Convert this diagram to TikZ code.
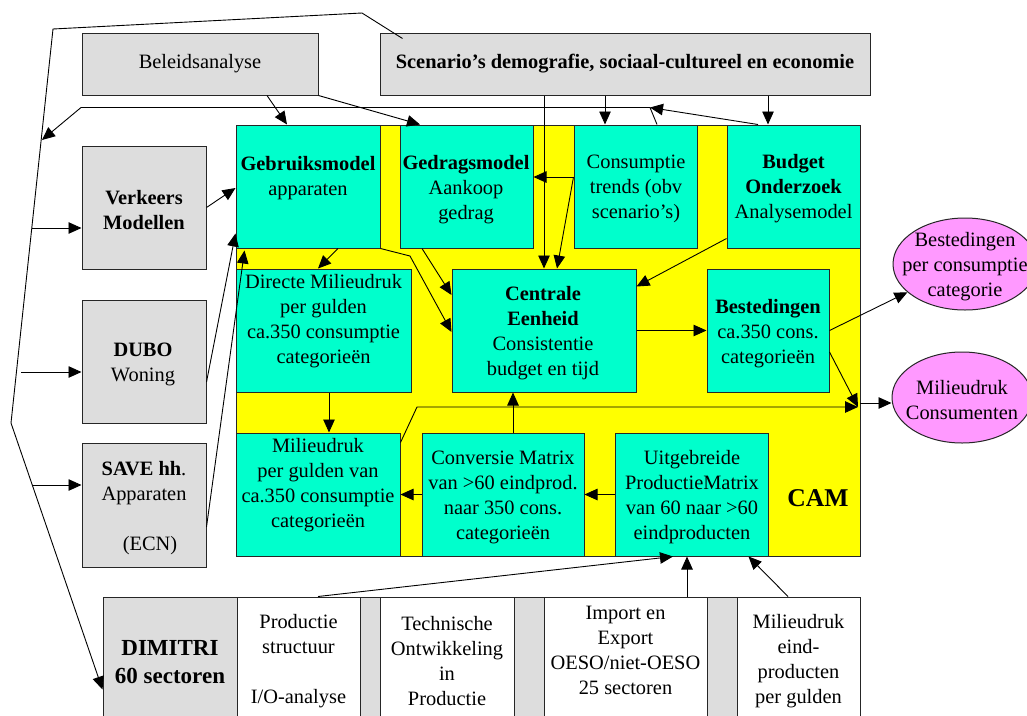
\documentclass[tikz,border=0pt]{standalone}
\usepackage{fontspec}
\setmainfont{Liberation Serif}
\usetikzlibrary{arrows.meta,shapes.geometric,fit}
\definecolor{panelgrey}{HTML}{DDDDDD}
\definecolor{modelcyan}{HTML}{00FFCC}
\definecolor{camyellow}{HTML}{FFFF00}
\definecolor{resultpink}{HTML}{FF99FF}

\begin{document}
\begin{tikzpicture}[x=1pt,y=-1pt,
  box/.style={rectangle, draw=black!85, line width=1pt, inner sep=0pt},
  greybox/.style={box, fill=panelgrey},
  cyanbox/.style={box, fill=modelcyan},
  whitebox/.style={box, fill=white},
  outcome/.style={ellipse, draw=black!85, line width=1pt, fill=resultpink, inner sep=0pt},
  txt/.style={align=center, inner sep=0pt, font=\fontsize{20.4}{25}\selectfont},
  bigtxt/.style={align=center, inner sep=0pt, font=\fontsize{23}{28}\selectfont\bfseries},
  link/.style={line width=0.9pt, draw=black},
  arr/.style={link, -{Triangle[length=13pt,width=11.5pt]}},
]
\useasboundingbox (0,0) rectangle (1027,715);
\clip (0,0) rectangle (1027,715);
\fill[white] (0,0) rectangle (1027,715);

% external inputs
\node[greybox, fit={(82,33) (318,95)}] (beleid) {};
\node[greybox, fit={(380,33) (870,95)}] (scen) {};
\node[greybox, fit={(82,146) (206,269)}] (verk) {};
\node[greybox, fit={(82,300) (206,423)}] (dubo) {};
\node[greybox, fit={(82,443) (206,567)}] (save) {};

% CAM area
\node[box, fill=camyellow, fit={(236,125) (860,556)}] (cam) {};
\node[cyanbox, fit={(236,125) (380,248)}] (gebr) {};
\node[cyanbox, fit={(400,125) (533,248)}] (gedr) {};
\node[cyanbox, fit={(574,125) (697,248)}] (cons) {};
\node[cyanbox, fit={(727,125) (860,248)}] (budg) {};
\node[cyanbox, fit={(236,269) (411,392)}] (dir) {};
\node[cyanbox, fit={(452,269) (636,392)}] (cent) {};
\node[cyanbox, fit={(707,269) (829,392)}] (best) {};
\node[cyanbox, fit={(236,433) (400,556)}] (mil) {};
\node[cyanbox, fit={(422,433) (584,556)}] (conv) {};
\node[cyanbox, fit={(615,433) (768,556)}] (uitg) {};

% results
\node[outcome, minimum width=144pt, minimum height=92pt] (e1) at (965,264) {};
\node[outcome, minimum width=140pt, minimum height=91pt] (e2) at (962,397.5) {};

% DIMITRI row
\node[greybox, fit={(103,597) (237,725)}] (dim) {};
\node[whitebox, fit={(237,597) (360,725)}] (prod) {};
\node[greybox, fit={(360,597) (380,725)}] (g1) {};
\node[whitebox, fit={(380,597) (514,725)}] (tech) {};
\node[greybox, fit={(514,597) (544,725)}] (g2) {};
\node[whitebox, fit={(544,597) (707,725)}] (imp) {};
\node[greybox, fit={(707,597) (737,725)}] (g3) {};
\node[whitebox, fit={(737,597) (860,725)}] (mile) {};

% texts
\node[txt] (tbeleid) at (200,64) {Beleidsanalyse};
\node[txt] (tscen) at (625,64) {\textbf{Scenario’s demografie, sociaal-cultureel en economie}};
\node[txt] (tverk) at (144,210) {\textbf{Verkeers}\\\textbf{Modellen}};
\node[txt] (tdubo) at (143,364) {\textbf{DUBO}\\Woning};
\node[txt] (tsave) at (144,508) {\textbf{SAVE hh}.\\Apparaten\\[25pt]\hspace*{12pt}(ECN)};
\node[txt] (tgebr) at (308,178) {\textbf{Gebruiksmodel}\\apparaten};
\node[txt] (tgedr) at (466,190) {\textbf{Gedragsmodel}\\Aankoop\\gedrag};
\node[txt] (tcons) at (636,189) {Consumptie\\trends (obv\\scenario’s)};
\node[txt] (tbudg) at (793.5,189) {\textbf{Budget}\\\textbf{Onderzoek}\\Analysemodel};
\node[txt] (tdir) at (323.5,321) {Directe Milieudruk\\per gulden\\ca.350 consumptie\\categorieën};
\node[txt] (tcent) at (543,333) {\textbf{Centrale}\\\textbf{Eenheid}\\Consistentie\\budget en tijd};
\node[txt] (tbest) at (768,334) {\textbf{Bestedingen}\\ca.350 cons.\\categorieën};
\node[txt] (tmil) at (318,485) {Milieudruk\\per gulden van\\ca.350 consumptie\\categorieën};
\node[txt] (tconv) at (503,497) {Conversie Matrix\\van >60 eindprod.\\naar 350 cons.\\categorieën};
\node[txt] (tuitg) at (692,497) {Uitgebreide\\ProductieMatrix\\van 60 naar >60\\eindproducten};
\node[inner sep=0pt, font=\fontsize{25.6}{30}\selectfont\bfseries] (tcam) at (818,498) {CAM};
\node[txt] (te1) at (965,267) {Bestedingen\\per consumptie\\categorie};
\node[txt] (te2) at (962,400) {Milieudruk\\Consumenten};
\node[bigtxt] (tdim) at (170,662) {DIMITRI\\60 sectoren};
\node[txt] (tprod) at (298.5,661.5) {Productie\\structuur\\[25pt]I/O-analyse};
\node[txt] (ttech) at (447,661.5) {Technische\\Ontwikkeling\\in\\Productie};
\node[txt] (timp) at (625.5,650.5) {Import en\\Export\\OESO/niet-OESO\\25 sectoren};
\node[txt] (tmile) at (798.5,661.5) {Milieudruk\\eind-\\producten\\per gulden};

% policy analysis inputs
\draw[arr] ([xshift=67pt]beleid.south) -- ([xshift=-21pt]gebr.north);
\draw[arr] (beleid.south east) -- ([xshift=-46.5pt]gedr.north);

% scenario inputs
\draw[arr] ([xshift=-81pt]scen.south) -- (cent.north);
\draw[arr] ([xshift=-20pt]scen.south) coordinate (s2) -- (s2 |- cons.north);
\draw[arr] ([xshift=143pt]scen.south) coordinate (s3) -- (s3 |- budg.north);

% feedback to the external models
\coordinate (jn) at (650,107.5);
\coordinate (fbc) at (81,107.5);
\coordinate (fbt) at (42,140);
\draw[arr] ([xshift=21.5pt]cons.north) -- (jn) -- (fbc) -- (fbt);
\draw[arr] ([xshift=-35.5pt]budg.north) -- (jn);

% outer loop from the scenarios to the side models and DIMITRI
\coordinate (o1) at (362,13);
\coordinate (o2) at (53,29);
\coordinate (o3) at (11,423);
\draw[arr] ([xshift=23pt,yshift=-6pt]scen.north west) -- (o1) -- (o2) -- (o3) -- ([yshift=-28.5pt]dim.west);
\coordinate (b1) at (32,228);
\coordinate (b2) at (21,372);
\coordinate (b3) at (32,485);
\draw[arr] (b1) -- ([yshift=-20.5pt]verk.west);
\draw[arr] (b2) -- ([yshift=-10.5pt]dubo.west);
\draw[arr] (b3) -- ([yshift=20pt]save.west);

% side models into the usage model
\draw[arr] (verk.east) -- ([yshift=-1.5pt]gebr.west);
\draw[arr] ([yshift=-20.5pt]dubo.east) -- ([yshift=15pt]gebr.south west);
\draw[arr] ([yshift=-22pt]save.east) -- ([xshift=9pt,yshift=-2pt]gebr.south west);

% inside CAM
\draw[arr] ([yshift=9.5pt]cons.west) -- ([yshift=9.5pt]gedr.east);
\draw[arr] ([yshift=9.5pt]cons.west) -- ([xshift=13pt]cent.north);
\draw[arr] ([yshift=10pt]budg.south west) -- ([yshift=-18pt]cent.north east);
\draw[arr] ([xshift=30pt]gebr.south) -- ([xshift=-5.5pt]dir.north);
\coordinate (gk) at (410,256);
\draw[arr] (gebr.south east) -- (gk) -- ([yshift=-1.5pt]cent.west);
\draw[arr] ([xshift=-44.5pt]gedr.south) -- ([yshift=35.5pt]cent.west);
\draw[arr] (cent.east) -- (best.west);
\draw[arr] ([xshift=5.5pt]dir.south) coordinate (d1) -- (d1 |- mil.north);
\draw[arr] ([xshift=10pt]conv.north) coordinate (c1) -- (c1 |- cent.south);
\draw[arr] (conv.west) -- (mil.east);
\draw[arr] (uitg.west) -- (conv.east);

% outputs
\draw[arr] (best.east) -- (e1);
\coordinate (mj) at (858,407);
\coordinate (mk) at (417,407);
\draw[arr] ([yshift=-21.5pt]best.east) -- (mj);
\draw[arr] ([yshift=-10pt]mil.north east) -- (mk) -- (mj);
\coordinate (mo) at (860,403);
\draw[arr] (mo) -- (mo -| e2.west);

% DIMITRI into the extended production matrix
\draw[arr] ([xshift=19.5pt]prod.north) -- ([xshift=-18.5pt]uitg.south);
\draw[arr] ([xshift=61.5pt]imp.north) coordinate (i1) -- (i1 |- uitg.south);
\draw[arr] ([xshift=-10.5pt]mile.north) -- ([xshift=-20pt]uitg.south east);
\end{tikzpicture}
\end{document}
